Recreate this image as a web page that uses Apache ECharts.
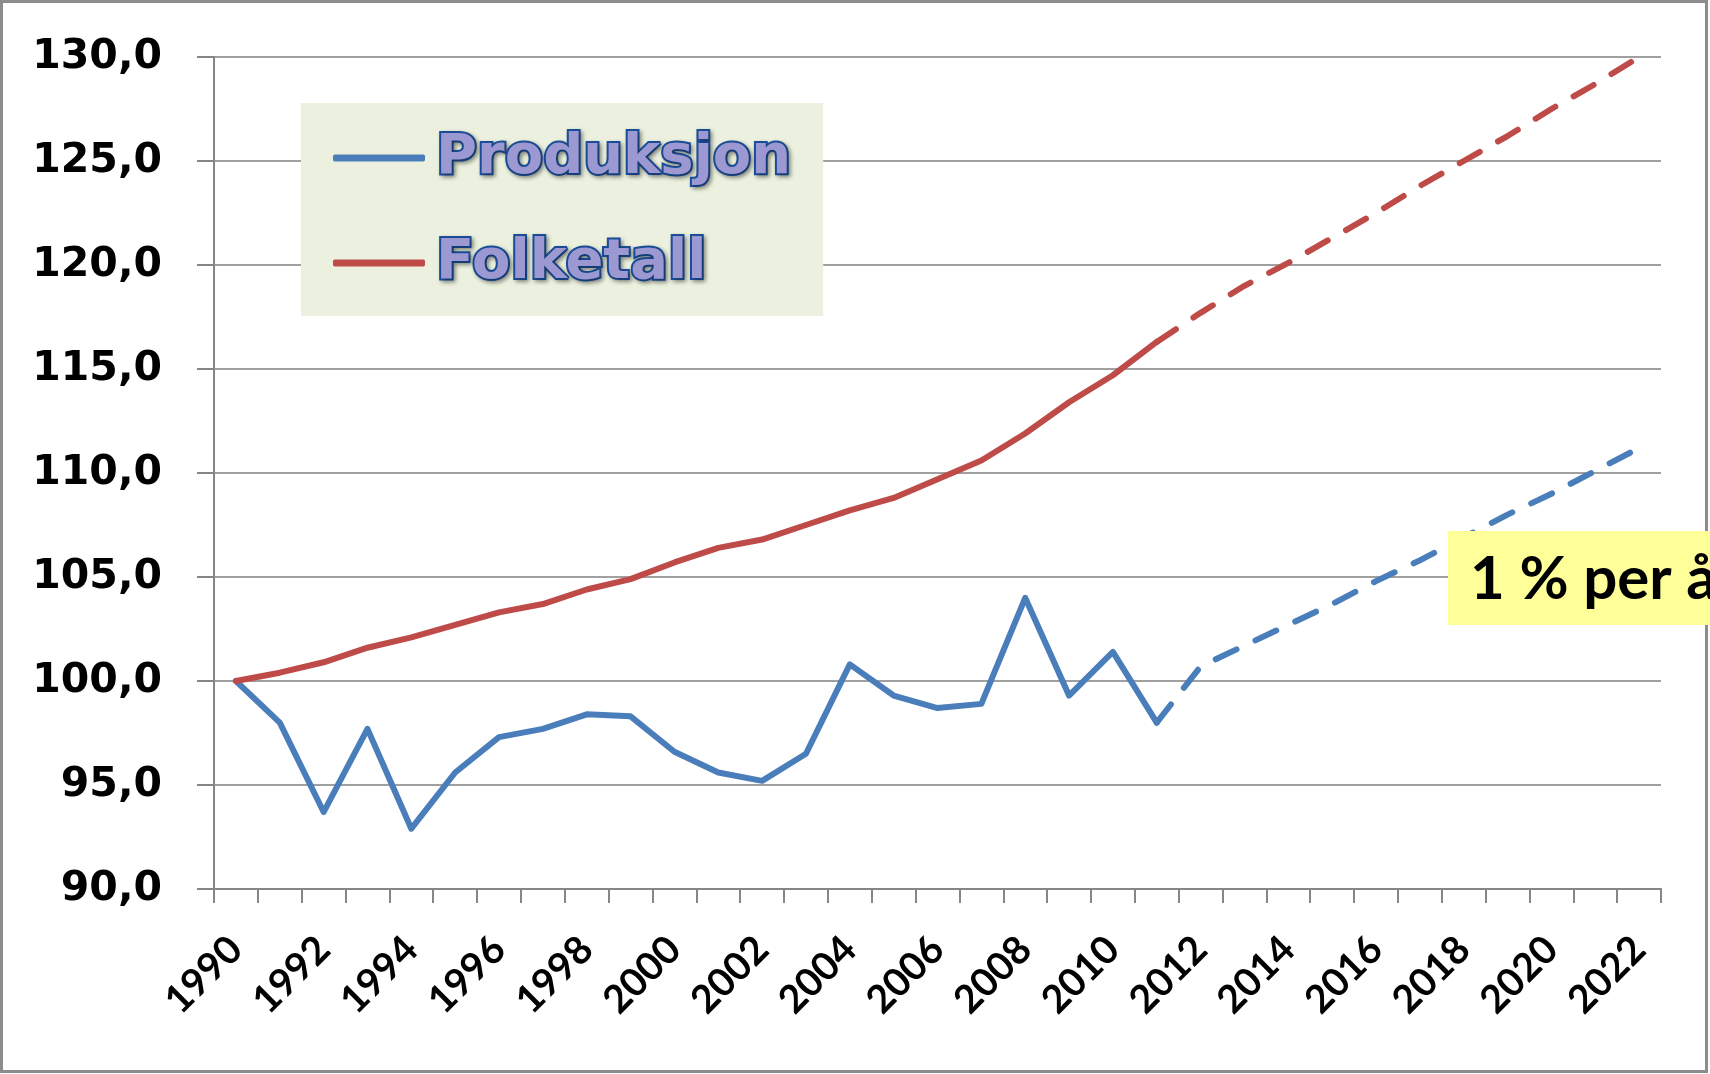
<!DOCTYPE html>
<html>
<head>
<meta charset="utf-8">
<script src="https://cdn.jsdelivr.net/npm/echarts@6/dist/echarts.min.js"></script>
<style>
html,body{margin:0;padding:0;background:#fff;}
#chart{width:1710px;height:1074px;}
</style>
</head>
<body>
<div id="chart"></div>
<script>
const years = ['1990','1991','1992','1993','1994','1995','1996','1997','1998','1999','2000','2001','2002','2003','2004','2005','2006','2007','2008','2009','2010','2011','2012','2013','2014','2015','2016','2017','2018','2019','2020','2021','2022'];
// historical (solid) values 1990-2011
const produksjon = [100.0, 98.0, 93.7, 97.7, 92.9, 95.6, 97.3, 97.7, 98.4, 98.3, 96.6, 95.6, 95.2, 96.5, 100.8, 99.3, 98.7, 98.9, 104.0, 99.3, 101.4, 98.0];
const folketall = [100.0, 100.4, 100.9, 101.6, 102.1, 102.7, 103.3, 103.7, 104.4, 104.9, 105.7, 106.4, 106.8, 107.5, 108.2, 108.8, 109.7, 110.6, 111.9, 113.4, 114.7, 116.3];
// projected (dashed) values 2011-2022
const produksjonPrognose = [98.0, 100.7, 101.7, 102.7, 103.7, 104.8, 105.8, 106.9, 108.0, 109.0, 110.1, 111.2];
const folketallPrognose = [116.3, 117.7, 119.0, 120.1, 121.3, 122.5, 123.8, 125.0, 126.2, 127.5, 128.7, 130.0];
const yTicks = {min: 90, max: 130, interval: 5};
const noteText = '1 % per å';

const BLUE = '#4a7ebb', RED = '#be4b48';
const startIdx = produksjon.length - 1; // 2011
function pad(arr, offset){ const out = new Array(years.length).fill('-'); arr.forEach((v,i)=>{out[i+offset]=v;}); return out; }

const chart = echarts.init(document.getElementById('chart'));
chart.setOption({
  animation: false,
  backgroundColor: '#ffffff',
  grid: {left: 214, right: 49, top: 57, bottom: 185, containLabel: false},
  legend: {
    data: ['Produksjon', 'Folketall'],
    orient: 'vertical', left: 301, top: 103,
    backgroundColor: '#ebf1de',
    padding: [25, 30, 23, 32],
    itemGap: 45, itemWidth: 92, itemHeight: 7, icon: 'roundRect',
    selectedMode: false,
    textStyle: {
      fontFamily: 'DejaVu Sans', fontWeight: 'bold', fontSize: 56, lineHeight: 60,
      color: '#9b98d2', textBorderColor: '#1b4f9c', textBorderWidth: 4,
      textShadowColor: 'rgba(0,0,0,0.35)', textShadowBlur: 4, textShadowOffsetX: 2, textShadowOffsetY: 2,
      padding: [0, 0, 0, 6]
    }
  },
  xAxis: {
    type: 'category', data: years, boundaryGap: true,
    axisLine: {lineStyle: {color: '#868686', width: 2}},
    axisTick: {show: true, interval: 0, length: 14, lineStyle: {color: '#868686', width: 2}},
    axisLabel: {interval: 1, rotate: 45, margin: 54, fontFamily: 'Lato', fontWeight: 'bold', fontSize: 39, color: '#000'},
    splitLine: {show: false}
  },
  yAxis: {
    type: 'value', min: yTicks.min, max: yTicks.max, interval: yTicks.interval,
    axisLine: {show: true, lineStyle: {color: '#868686', width: 2}},
    axisTick: {show: true, inside: false, length: 17, lineStyle: {color: '#868686', width: 2}},
    axisLabel: {margin: 52, fontFamily: 'DejaVu Sans', fontWeight: 'bold', fontSize: 41, color: '#000',
      formatter: v => v.toFixed(1).replace('.', ',')},
    splitLine: {show: true, lineStyle: {color: '#a0a0a0', width: 2}}
  },
  series: [
    {name: 'Produksjon', type: 'line', data: pad(produksjon, 0), showSymbol: false, symbol: 'none', color: BLUE,
      lineStyle: {color: BLUE, width: 6, cap: 'round', join: 'round'}, z: 3},
    {name: 'Folketall', type: 'line', data: pad(folketall, 0), showSymbol: false, symbol: 'none', color: RED,
      lineStyle: {color: RED, width: 6, cap: 'round', join: 'round'}, z: 3},
    {name: 'Produksjon prognose', type: 'line', data: pad(produksjonPrognose, startIdx), showSymbol: false, symbol: 'none', color: BLUE,
      lineStyle: {color: BLUE, width: 6, type: [23, 21], cap: 'round', join: 'round'}, z: 3},
    {name: 'Folketall prognose', type: 'line', data: pad(folketallPrognose, startIdx), showSymbol: false, symbol: 'none', color: RED,
      lineStyle: {color: RED, width: 6, type: [23, 21], cap: 'round', join: 'round'}, z: 3}
  ],
  graphic: [
    {type: 'rect', z: 1, silent: true, shape: {x: 1.5, y: 1.5, width: 1705, height: 1070},
      style: {fill: 'none', stroke: '#8c8c8c', lineWidth: 3}},
    {type: 'rect', z: 10, silent: true, shape: {x: 1448, y: 531, width: 270, height: 94},
      style: {fill: '#ffff99'}},
    {type: 'text', z: 11, silent: true, left: 1470, top: 550,
      style: {text: noteText, fontFamily: 'Lato', fontWeight: 'bold', fontSize: 60, fill: '#000'}}
  ]
});
</script>
</body>
</html>
